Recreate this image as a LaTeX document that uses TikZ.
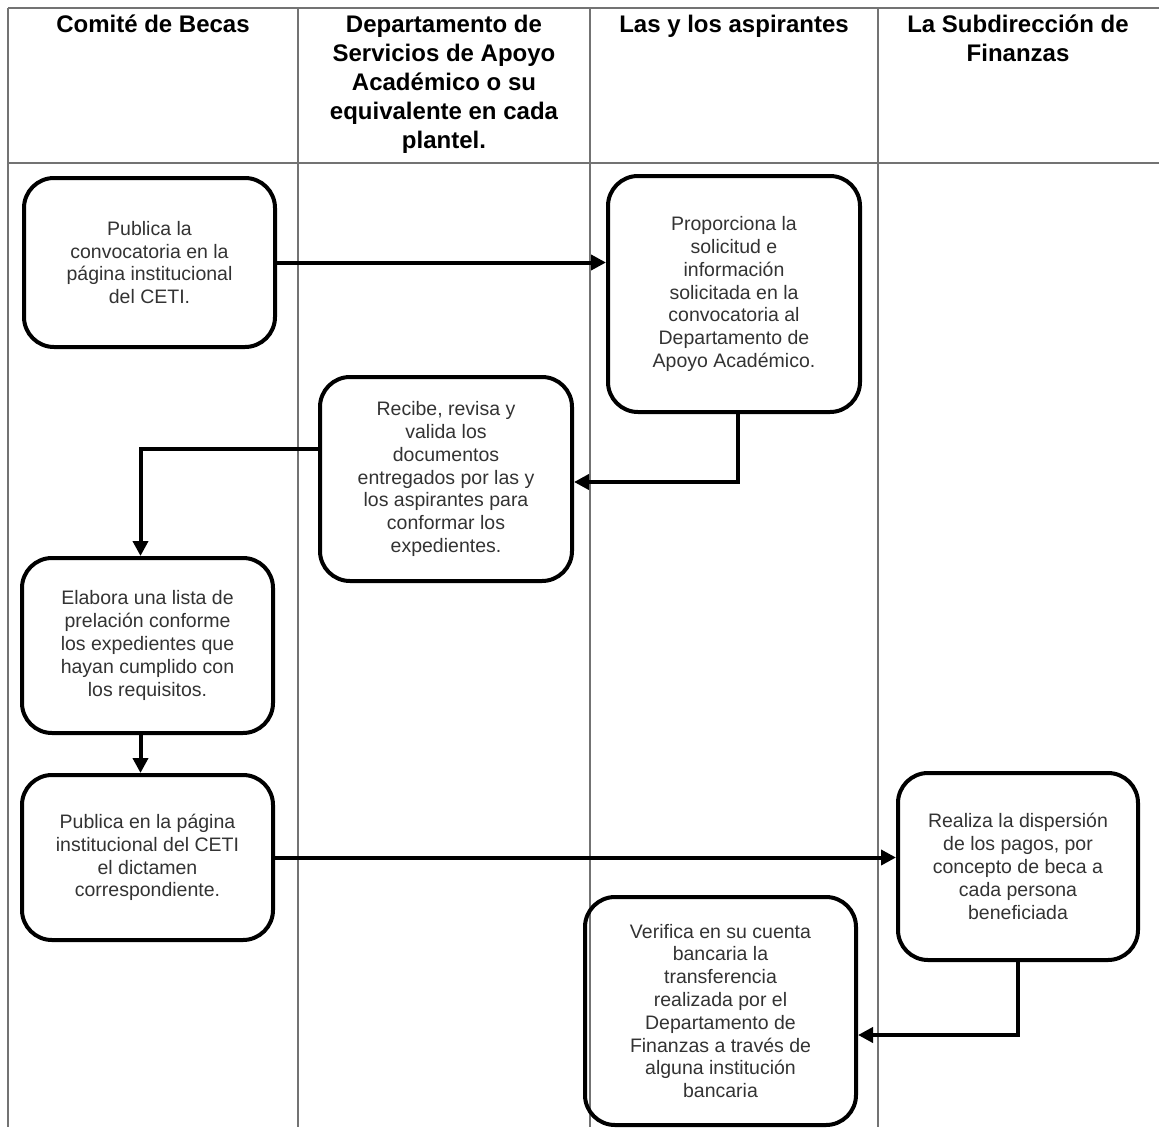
\documentclass[tikz,border=0pt]{standalone}
\usepackage{fontspec}
\setmainfont{Liberation Sans}
\usetikzlibrary{arrows.meta}
\begin{document}
\begin{tikzpicture}[x=1pt,y=-1pt,
  stepbox/.style={draw=black, line width=4pt, rounded corners=30pt, align=center,
    font=\fontsize{19.5}{22.8}\selectfont, text=black!80, inner sep=4pt},
  flow/.style={line width=4pt, -{Triangle[length=15pt,width=15pt]}},
  rule/.style={draw=black!55, line width=1.2pt},
  head/.style={align=center, font=\fontsize{24}{29}\selectfont\bfseries, anchor=north, inner sep=0pt}]
\useasboundingbox (0,0) rectangle (1159,1127);
\fill[white] (0,0) rectangle (1159,1127);

% swimlane grid
\draw[rule] (8,8) -- (1159,8);
\draw[rule] (8,163) -- (1159,163);
\foreach \x in {8,298,590,878} \draw[rule] (\x,8) -- (\x,1127);

% lane headings
\node[head] (h1) at (153,15) {Comité de Becas};
\node[head] (h2) at (444,15) {Departamento de\\Servicios de Apoyo\\Académico o su\\equivalente en cada\\plantel.};
\node[head] (h3) at (734,15) {Las y los aspirantes};
\node[head] (h4) at (1018,15) {La Subdirección de\\Finanzas};

% process steps
\node[stepbox, minimum width=251pt, minimum height=169pt] (b1) at (149.5,262.5)
  {Publica la\\convocatoria en la\\página institucional\\del CETI.};
\node[stepbox, minimum width=252pt, minimum height=236pt] (b2) at (734,294)
  {Proporciona la\\solicitud e\\información\\solicitada en la\\convocatoria al\\Departamento de\\Apoyo Académico.};
\node[stepbox, minimum width=252pt, minimum height=204pt] (b3) at (446,479)
  {Recibe, revisa y\\valida los\\documentos\\entregados por las y\\los aspirantes para\\conformar los\\expedientes.};
\node[stepbox, minimum width=251pt, minimum height=175pt] (b4) at (147.5,645.5)
  {Elabora una lista de\\prelación conforme\\los expedientes que\\hayan cumplido con\\los requisitos.};
\node[stepbox, minimum width=251pt, minimum height=165pt] (b5) at (147.5,857.5)
  {Publica en la página\\institucional del CETI\\el dictamen\\correspondiente.};
\node[stepbox, minimum width=240pt, minimum height=187pt] (b6) at (1018,866.5)
  {Realiza la dispersión\\de los pagos, por\\concepto de beca a\\cada persona\\beneficiada};
\node[stepbox, minimum width=271pt, minimum height=228pt] (b7) at (720.5,1011)
  {Verifica en su cuenta\\bancaria la\\transferencia\\realizada por el\\Departamento de\\Finanzas a través de\\alguna institución\\bancaria};

% connectors
\draw[flow] (b1.east) -- (b2.west |- b1.east);
\draw[flow] ([xshift=4pt]b2.south) |- ([yshift=-3pt]b3.east);
\draw[flow] ([yshift=30pt]b3.west) -| ([xshift=-7pt]b4.north);
\draw[flow] ([xshift=-7pt]b4.south) -- ([xshift=-7pt]b5.north);
\draw[flow] (b5.east) -- (b6.west |- b5.east);
\draw[flow] (b6.south) |- ([yshift=-24pt]b7.east);
\end{tikzpicture}
\end{document}
